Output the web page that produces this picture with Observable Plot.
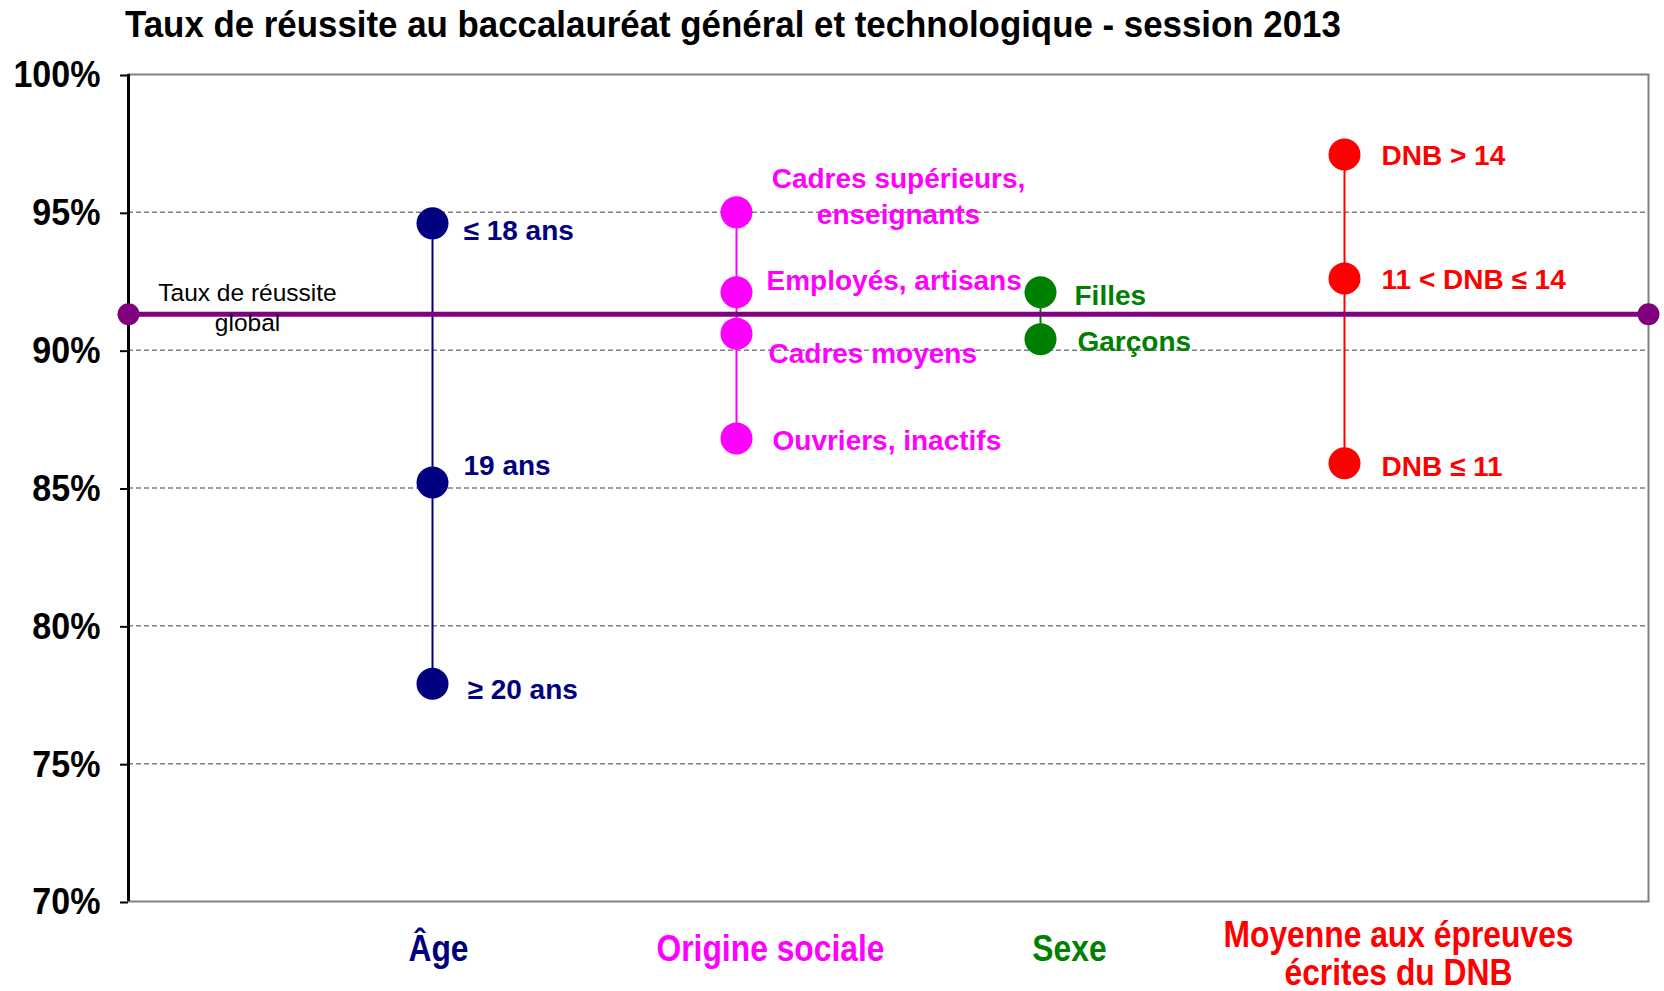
<!DOCTYPE html>
<html>
<head>
<meta charset="utf-8">
<script src="https://cdn.jsdelivr.net/npm/d3@7"></script>
<script src="https://cdn.jsdelivr.net/npm/@observablehq/plot@0.6"></script>
<style>
  body { margin: 0; background: #fff; }
  #wrap { position: relative; width: 1664px; height: 991px; overflow: hidden; }
  #title { position: absolute; left: 125px; top: 5px; font-family: "Liberation Sans", Arial, sans-serif; font-weight: bold; font-size: 37px; line-height: 40px; color: #000; white-space: nowrap; transform: scaleX(0.942); transform-origin: left center; }
  #chart { position: absolute; left: 0; top: 50px; }
</style>
</head>
<body>
<div id="wrap">
  <div id="title">Taux de réussite au baccalauréat général et technologique - session 2013</div>
  <div id="chart"></div>
</div>
<script>
// ---- data ----
const groups = ["Âge", "Origine sociale", "Sexe", "Moyenne aux épreuves\nécrites du DNB"];
const groupX = [1, 2, 3, 4];
const groupColors = ["#000080", "#FF00FF", "#008000", "#FF0000"];

const ageLabels = ["≤ 18 ans", "19 ans", "≥ 20 ans"];
const ageValues = [94.6, 85.2, 77.9];

const socialLabels = ["Cadres supérieurs,\nenseignants", "Employés, artisans", "Cadres moyens", "Ouvriers, inactifs"];
const socialValues = [95.0, 92.1, 90.6, 86.8];

const sexLabels = ["Filles", "Garçons"];
const sexValues = [92.1, 90.4];

const dnbLabels = ["DNB > 14", "11 < DNB ≤ 14", "DNB ≤ 11"];
const dnbValues = [97.1, 92.6, 85.9];

const globalLabel = "Taux de réussite\nglobal";
const globalRate = 91.3;

const yTicks = [70, 75, 80, 85, 90, 95, 100];
const gridTicks = [75, 80, 85, 90, 95];

// ---- build table ----
const seriesLabels = [ageLabels, socialLabels, sexLabels, dnbLabels];
const seriesValues = [ageValues, socialValues, sexValues, dnbValues];
const points = [];
seriesLabels.forEach((labs, gi) => {
  labs.forEach((lab, i) => {
    points.push({group: gi, x: groupX[gi], value: seriesValues[gi][i], label: lab, color: groupColors[gi]});
  });
});

// ---- layout (label offsets, px) ----
const labelOffsets = [
  {dx: 31, dy: 5}, {dx: 31, dy: -19}, {dx: 35, dy: 4},
  {dx: 162, dy: -18, anchor: "middle"}, {dx: 30, dy: -14}, {dx: 32, dy: 18}, {dx: 36, dy: 0},
  {dx: 34, dy: 1}, {dx: 37, dy: 0},
  {dx: 37, dy: -1}, {dx: 37, dy: -1}, {dx: 37, dy: 1}
];
const catOffsets = [{dx: 6, dy: 47}, {dx: 34, dy: 47}, {dx: 29, dy: 47}, {dx: 54, dy: 52}];

const FONT = '"Liberation Sans", Arial, sans-serif';

const pointLabelMarks = points.map((p, i) => Plot.text([p], {
  x: "x", y: "value", text: "label", fill: p.color,
  dx: labelOffsets[i].dx, dy: labelOffsets[i].dy,
  textAnchor: labelOffsets[i].anchor || "start",
  fontSize: 28, fontWeight: "bold", fontFamily: FONT, lineHeight: 1.3
}));

const catMarks = groups.map((g, i) => Plot.text([g], {
  x: () => groupX[i], y: () => 70, text: d => d, fill: groupColors[i],
  dx: catOffsets[i].dx, dy: catOffsets[i].dy, textAnchor: "middle",
  fontSize: 37, fontWeight: "bold", fontFamily: FONT, lineHeight: 1.04,
  className: "cond86"
}));

const chart = Plot.plot({
  width: 1664,
  height: 941,
  marginLeft: 128,
  marginRight: 16,
  marginTop: 24,
  marginBottom: 90,
  x: {domain: [0, 5], axis: null},
  y: {domain: [70, 100], axis: null},
  color: {type: "identity"},
  style: {fontFamily: FONT, background: "#fff"},
  marks: [
    Plot.ruleY(gridTicks, {stroke: "#808080", strokeDasharray: "5,3", strokeWidth: 1.5}),
    Plot.frame({stroke: "#808080", strokeWidth: 2}),
    Plot.ruleX([0], {stroke: "#000", strokeWidth: 3}),
    Plot.axisY({
      ticks: yTicks, tickFormat: d => d + "%", tickSize: 8, tickPadding: 20, label: null,
      stroke: "#000", strokeWidth: 2, fill: "#000",
      fontSize: 37, fontWeight: "bold", fontFamily: FONT, dy: 1,
      className: "cond91"
    }),
    Plot.line(points, {x: "x", y: "value", z: "group", stroke: "color", strokeWidth: 2}),
    Plot.dot(points, {x: "x", y: "value", r: 16, fill: "color"}),
    Plot.ruleY([globalRate], {stroke: "#800080", strokeWidth: 5}),
    Plot.dot([0, 5], {x: d => d, y: () => globalRate, r: 11, fill: "#800080"}),
    Plot.text([globalLabel], {x: () => 0, y: () => globalRate, text: d => d, dx: 119, dy: -8,
      textAnchor: "middle", fill: "#000", fontSize: 24.5, fontFamily: FONT, lineHeight: 1.22}),
    ...pointLabelMarks,
    ...catMarks
  ]
});

// condense the bold labels that the reference draws narrower
function condense(sel, k) {
  d3.select(chart).selectAll(sel + " text").each(function() {
    const t = this.getAttribute("transform") || "";
    this.setAttribute("transform", t + ` scale(${k},1)`);
  });
}
condense(".cond86", 0.86);
condense(".cond91", 0.92);

document.getElementById("chart").appendChild(chart);
</script>
</body>
</html>
